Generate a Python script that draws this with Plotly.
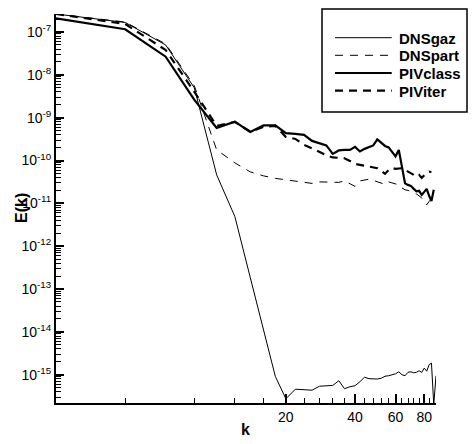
import math
import plotly.graph_objects as go

# ---------------- data ----------------
k = [2, 4, 6, 8, 10, 12, 14, 16, 18, 20,
     22, 24, 26, 28, 30, 32, 34, 36, 38, 40,
     42, 44, 46, 48, 50, 52, 54, 56, 58, 60,
     62, 64, 66, 68, 70, 72, 74, 76, 78, 80,
     82, 84, 86, 88, 90]

dns_gaz = [2.63e-7, 1.67e-7, 4.98e-8, 4.94e-9, 4.62e-11, 4.92e-12, 1.86e-13, 1.10e-14, 9.12e-16, 2.75e-16,
           4.59e-16, 4.47e-16, 4.35e-16, 5.39e-16, 5.54e-16, 5.63e-16, 7.24e-16, 4.71e-16, 5.25e-16, 5.54e-16,
           6.87e-16, 8.75e-16, 8.07e-16, 7.94e-16, 7.94e-16, 8.28e-16, 9.23e-16, 9.48e-16, 1.00e-15, 1.05e-15,
           1.17e-15, 1.00e-15, 9.48e-16, 1.14e-15, 1.17e-15, 1.11e-15, 1.14e-15, 1.24e-15, 1.13e-15, 1.43e-15,
           1.21e-15, 1.71e-15, 1.87e-15, 2.0e-16, 9.48e-16]

dns_part = [2.63e-7, 1.71e-7, 5.25e-8, 5.51e-9, 1.77e-10, 8.81e-11, 5.43e-11, 4.38e-11, 3.83e-11, 3.53e-11,
            3.35e-11, 3.17e-11, 2.92e-11, 3.17e-11, 3.12e-11, 3.17e-11, 3.09e-11, 3.35e-11, 2.85e-11, 2.49e-11,
            3.35e-11, 3.53e-11, 3.66e-11, 3.44e-11, 3.17e-11, 2.92e-11, 2.77e-11, 3.17e-11, 3.01e-11, 2.85e-11,
            2.70e-11, 2.30e-11, 2.07e-11, 2.01e-11, 1.85e-11, 1.76e-11, 1.66e-11, 1.50e-11, 1.34e-11, 1.14e-11,
            9.22e-12, 1.11e-11, 1.27e-11]

piv_class = [2.09e-7, 1.16e-7, 2.65e-8, 2.59e-9, 5.77e-10, 8.09e-10, 4.66e-10, 6.59e-10, 6.59e-10, 4.34e-10,
             4.18e-10, 3.96e-10, 2.87e-10, 2.51e-10, 2.25e-10, 1.43e-10, 1.72e-10, 1.77e-10, 1.77e-10, 2.08e-10,
             1.63e-10, 1.87e-10, 2.08e-10, 2.25e-10, 3.11e-10, 2.58e-10, 2.19e-10, 2.02e-10, 1.59e-10, 1.25e-10,
             1.77e-10, 6.73e-11, 2.93e-11, 2.70e-11, 2.56e-11, 2.18e-11, 1.90e-11, 1.96e-11, 1.58e-11, 1.85e-11,
             2.18e-11, 1.50e-11, 1.14e-11, 2.07e-11]

piv_iter = [2.63e-7, 1.54e-7, 3.80e-8, 3.99e-9, 6.43e-10, 7.96e-10, 4.73e-10, 6.08e-10, 6.42e-10, 3.56e-10,
            3.19e-10, 2.31e-10, 1.92e-10, 1.59e-10, 1.32e-10, 1.18e-10, 1.13e-10, 1.13e-10, 9.80e-11, 8.34e-11,
            7.91e-11, 7.49e-11, 7.22e-11, 6.99e-11, 6.62e-11, 5.73e-11, 4.88e-11, 6.04e-11, 6.73e-11, 6.38e-11,
            6.62e-11, 6.62e-11, 6.04e-11, 5.43e-11, 5.06e-11, 4.62e-11, 4.22e-11, 4.62e-11, 3.94e-11, 4.62e-11,
            5.14e-11, 5.52e-11, 5.40e-11]

series_names = ["DNSgaz", "DNSpart", "PIVclass", "PIViter"]

x_tick_vals = [20, 40, 60, 80]
x_tick_text = ["20", "40", "60", "80"]
x_minor_vals = [4, 8, 12, 16, 24, 28, 32, 36, 44, 48, 52, 56, 64, 68, 72, 76, 84, 88]

y_exponents = [-15, -14, -13, -12, -11, -10, -9, -8, -7]
y_tick_vals = [10.0 ** e for e in y_exponents]
y_tick_text = ["10<sup>%d</sup>" % e for e in y_exponents]
y_minor_vals = [m * 10.0 ** e for e in range(-16, -6) for m in range(2, 10)]

# ---------------- styling ----------------
FONT = "Liberation Sans, Arial, sans-serif"
W, H = 474, 444
ML, MR, MT, MB = 56, 38, 14, 41
PW, PH = W - ML - MR, H - MT - MB

styles = [
    dict(color="black", width=1),
    dict(color="black", width=1, dash="8px,7px"),
    dict(color="black", width=2.2),
    dict(color="black", width=2.2, dash="8px,6px"),
]


def px(xp):
    return (xp - ML) / PW


def py(yp):
    return (H - MB - yp) / PH


fig = go.Figure()
for name, xs, ys, st in zip(series_names,
                            [k, k[:len(dns_part)], k[:len(piv_class)], k[:len(piv_iter)]],
                            [dns_gaz, dns_part, piv_class, piv_iter], styles):
    fig.add_trace(go.Scatter(x=xs, y=ys, mode="lines", name=name, line=st,
                             showlegend=False, hoverinfo="x+y+name"))

# manual legend box (matches the reference's wide sample lines)
shapes = [dict(type="rect", xref="paper", yref="paper",
               x0=px(322), x1=px(467), y0=py(112), y1=py(9),
               line=dict(color="black", width=1.5), fillcolor="white", layer="above")]
annotations = []
rows = [37.7, 55.3, 73.0, 90.7]
for name, st, ry in zip(series_names, styles, rows):
    shapes.append(dict(type="line", xref="paper", yref="paper",
                       x0=px(335), x1=px(391.7), y0=py(ry), y1=py(ry),
                       line=st, layer="above"))
    annotations.append(dict(xref="paper", yref="paper", x=px(397), y=py(ry + 0.5),
                            xanchor="left", yanchor="middle", showarrow=False,
                            text="<b>%s</b>" % name,
                            font=dict(family=FONT, size=15, color="black")))

annotations.append(dict(xref="paper", yref="paper", x=px(21), y=py(208),
                        xanchor="center", yanchor="middle", showarrow=False,
                        textangle=-90, text="<b>E(k)</b>",
                        font=dict(family=FONT, size=16, color="black")))
annotations.append(dict(xref="paper", yref="paper", x=px(245), y=py(430),
                        xanchor="center", yanchor="middle", showarrow=False,
                        text="<b>k</b>",
                        font=dict(family=FONT, size=16, color="black")))

fig.update_layout(
    width=W, height=H,
    margin=dict(l=ML, r=MR, t=MT, b=MB, pad=0),
    paper_bgcolor="white", plot_bgcolor="white",
    font=dict(family=FONT, size=14, color="black"),
    showlegend=False,
    shapes=shapes, annotations=annotations,
    xaxis=dict(type="log", range=[math.log10(2), math.log10(90)],
               tickmode="array", tickvals=x_tick_vals, ticktext=x_tick_text,
               ticks="inside", ticklen=9, tickwidth=2, tickcolor="black",
               showline=True, linewidth=2, linecolor="black",
               showgrid=False, zeroline=False, mirror=False,
               tickfont=dict(family=FONT, size=14, color="black"),
               minor=dict(tickmode="array", tickvals=x_minor_vals, ticks="inside",
                          ticklen=5, tickwidth=1, tickcolor="black", showgrid=False)),
    yaxis=dict(type="log", range=[-15.66, -6.58],
               tickmode="array", tickvals=y_tick_vals, ticktext=y_tick_text,
               ticks="inside", ticklen=8, tickwidth=2, tickcolor="black",
               showline=True, linewidth=2, linecolor="black",
               showgrid=False, zeroline=False, mirror=False,
               tickfont=dict(family=FONT, size=14, color="black"),
               minor=dict(tickmode="array", tickvals=y_minor_vals, ticks="inside",
                          ticklen=5, tickwidth=1, tickcolor="black", showgrid=False)),
)

fig.write_html("out.html",
               config={"displayModeBar": False},
               post_script="document.body.style.margin='0px';document.body.style.overflow='hidden';")
